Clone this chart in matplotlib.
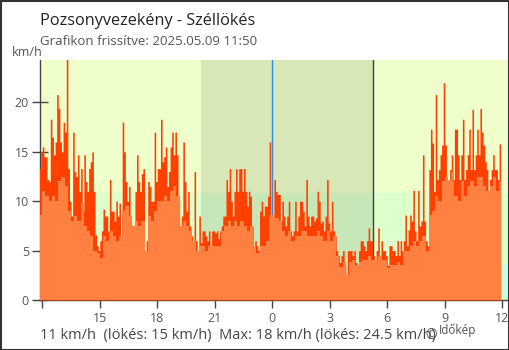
import numpy as np
import matplotlib
matplotlib.use("Agg")
import matplotlib.pyplot as plt

# ---------------- data ----------------
start_hour = -12 - 10/60      # 11:50 previous day (hours relative to midnight)
gust_step = 5/60              # gusts: 5-minute samples
wind_step = 10/60             # mean wind: 10-minute samples

gust = [13.3, 15, 15.5, 14.5, 14.5, 12.2, 12, 18.3, 16.5, 14.7,
        16, 20.8, 19.4, 16, 15, 18, 17, 24.5, 13.3, 10,
        8.5, 17, 13, 12.5, 14.7, 11, 13.3, 9, 14.7, 12,
        11, 13.3, 14, 15, 11, 6.6, 5.5, 5, 6, 7,
        9.2, 8.5, 8.5, 7, 12.2, 9, 9, 8, 10, 8.5,
        9.8, 5.5, 18, 15, 12, 10, 11.5, 8, 7.5, 6.2,
        11, 14.7, 12, 11, 12.8, 13.3, 5, 6, 12, 11.5,
        10, 10, 17, 12, 13.3, 13.3, 18.3, 14, 14.5, 15.5,
        11.5, 13, 15.5, 17, 14.7, 17, 14.7, 10, 7.5, 8.5,
        16, 12, 9, 11, 7.5, 6.5, 5.5, 13, 6, 5,
        8.5, 5.8, 7, 7, 6.5, 6, 7, 5, 7, 7,
        6.8, 7, 6.2, 7, 7.5, 8.5, 8.5, 12.2, 11, 13.3,
        10, 8.5, 11, 13.3, 11, 13.3, 13.3, 11, 13.3, 11,
        9.5, 11, 10.5, 7.5, 5, 6, 5.5, 5, 9, 10,
        8.5, 9.5, 9.5, 10.5, 16, 8, 8.5, 12.2, 11, 10.7,
        10.7, 8, 10, 8.5, 7.5, 8.5, 10, 7, 6.5, 7,
        10, 7, 8.5, 10, 10, 9, 7.5, 12.2, 8.5, 7.5,
        8.5, 8.5, 8, 8.3, 11, 10, 7.8, 8, 7, 8.5,
        12.2, 7.8, 7, 10, 7, 6.5, 5, 4.5, 3.8, 4.5,
        5, 3.5, 1.5, 5, 5, 5, 4.5, 5, 3.8, 3,
        5, 6, 6, 5.5, 5, 6, 7.3, 6, 6, 4.5,
        3.8, 5, 7.3, 4, 6, 5, 5, 4.5, 3.5, 5.5,
        5.5, 5, 5, 4.5, 6, 4.5, 6, 5, 6, 8.6,
        5.5, 7.1, 8.6, 8, 11.1, 7, 6, 11.1, 7.5, 8,
        14.7, 8, 6, 5.5, 13.2, 17.3, 15.9, 11, 20.8, 12.2,
        13.2, 14.7, 15.7, 22, 15.7, 12.2, 9.5, 13.2, 14.7, 12.2,
        17.3, 17.3, 14.7, 12.2, 14.7, 18.3, 12.2, 13.2, 14.7, 17.3,
        13.2, 19.3, 13.2, 14.7, 17.3, 14.7, 19.4, 17, 15.7, 14,
        13.2, 11.1, 12.2, 13.2, 14.7, 13.2, 13.2, 12.2, 15.8]

wind = [8.6, 11, 10.5, 10, 10.5, 10, 12, 12.5, 11.5, 9,
        8, 8.5, 8, 9.8, 7.5, 7, 6.5, 5, 4.8, 4.3,
        6.5, 6, 7, 6.5, 6, 6.5, 9, 9.5, 8.5, 7.5,
        8, 7.5, 8, 5, 8.5, 8, 9, 10, 10, 10.5,
        10, 11, 11.5, 10.5, 7.5, 8, 7.5, 7, 6, 5,
        5.5, 5.5, 5, 5.5, 5.5, 5.5, 5.5, 7, 7.5, 8,
        7.5, 8, 7.5, 8, 7.5, 7, 7.5, 5.5, 4.8, 5.5,
        5.5, 6, 8.6, 8.6, 8.3, 8, 7, 6.5, 7, 6,
        6.5, 6.5, 7, 7, 6.5, 6.5, 6.5, 7, 6.5, 6,
        7, 6, 6.5, 4.5, 3.3, 3.8, 2.5, 3.8, 4, 3.5,
        3.8, 4, 4, 4.5, 4, 4, 4.5, 4, 4, 3.2,
        3.5, 3.5, 3.8, 3.5, 5, 5, 5.5, 6, 5.5, 6,
        6.5, 5, 8.6, 9, 10.5, 10, 12, 12.5, 12, 13,
        10.5, 10, 12, 10.5, 11.5, 12, 11.5, 12.5, 12.5, 11.5,
        11, 11.5, 12.5, 11, 12]

x_ticks = [-12, -9, -6, -3, 0, 3, 6, 9, 12]
x_labels = ["", "15", "18", "21", "0", "3", "6", "9", "12"]
y_ticks = [0, 5, 10, 15, 20]

band_edges = [0, 3.6, 10.8, 30]
band_colors = ["#ccffdd", "#ddffcc", "#eeffcc"]
sunset, sunrise = -3.72, 5.27

title = "Pozsonyvezekény - Széllökés"
subtitle = "Grafikon frissítve: 2025.05.09 11:50"
footer = "11 km/h  (lökés: 15 km/h)  Max: 18 km/h (lökés: 24.5 km/h)"

# ---------------- figure ----------------
plt.rcParams['font.family'] = ['Open Sans', 'DejaVu Sans']
W, H = 510, 350
fig = plt.figure(figsize=(W/100, H/100), dpi=100)
ax = fig.add_axes([40/W, 1-300/H, 469/W, 240/H])

xlim = (-12.12, 12.35)
ylim = (0, 24.3)

for lo, hi, c in zip(band_edges[:-1], band_edges[1:], band_colors):
    ax.axhspan(lo, hi, color=c, lw=0, zorder=0)
ax.axvspan(sunset, sunrise, color="black", alpha=0.095, lw=0, zorder=1)
ax.axvline(0, color="#2a8fe0", lw=1, zorder=2)
ax.axvline(sunrise, color="#404040", lw=1, zorder=2)

ge = start_hour + gust_step*np.arange(len(gust)+1)
we = start_hour + wind_step*np.arange(len(wind)+1)
we = np.minimum(we, ge[-1])
ax.fill_between(ge, 0, np.append(gust, gust[-1]), step="post", color="#ff4000", lw=0, zorder=3)
ax.fill_between(we, 0, np.append(wind, wind[-1]), step="post", color="#ff8040", lw=0, zorder=4)

ax.set_xlim(*xlim)
ax.set_ylim(*ylim)
for s in ["top", "right"]:
    ax.spines[s].set_visible(False)
for s in ["left", "bottom"]:
    ax.spines[s].set_color("#444444")
    ax.spines[s].set_linewidth(1)
ax.set_xticks(x_ticks)
ax.set_xticklabels(x_labels)
ax.set_yticks(y_ticks)
ax.tick_params(axis="y", direction="inout", length=12, width=1, color="#444444",
               labelcolor="#555555", labelsize=9, pad=2)
ax.tick_params(axis="x", direction="out", length=6, width=1, color="#444444",
               labelcolor="#555555", labelsize=9, pad=3)
ax.get_xticklines()[8].set_color("#2a8fe0")
ax.set_axisbelow(False)

def px(x, y):
    return x/W, 1-y/H

fig.text(*px(40, 25), title, fontsize=11.7, color="#222222", va="baseline", ha="left")
fig.text(*px(40, 45), subtitle, fontsize=9.5, color="#555555", va="baseline", ha="left")
fig.text(*px(12, 56), "km/h", fontsize=9, color="#555555", va="baseline", ha="left")
fig.text(*px(40, 339), footer, fontsize=10.5, color="#444444", va="baseline", ha="left")
fig.text(*px(425, 339), "©", fontsize=10, color="#555555", va="baseline", ha="left")
fig.text(*px(439, 334), "Időkép", fontsize=8.5, color="#555555", va="baseline", ha="left")

# outer frame
fig.patches.append(plt.Rectangle((0.5/W, 0.5/H), 1-1/W, 1-1/H, transform=fig.transFigure,
                                 fill=False, edgecolor="#333333", lw=1.5))

fig.savefig("out.png", dpi=100)
